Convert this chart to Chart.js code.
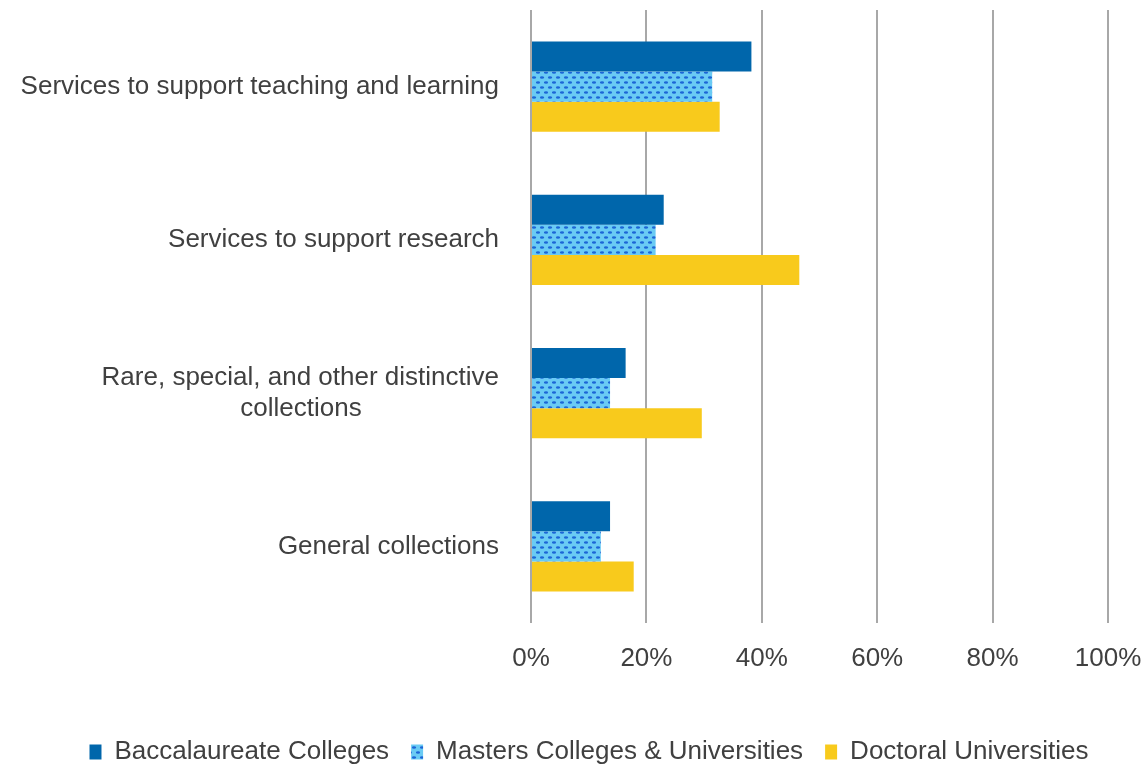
<!DOCTYPE html>
<html>
<head>
<meta charset="utf-8">
<script src="https://cdn.jsdelivr.net/npm/chart.js@4/dist/chart.umd.min.js"></script>
<style>
  html, body { margin: 0; padding: 0; background: #fff; }
  #wrap { width: 1146px; height: 767px; }
</style>
</head>
<body>
<div id="wrap"><canvas id="chart" width="1146" height="767"></canvas></div>
<script>
const categories = [
  "Services to support teaching and learning",
  "Services to support research",
  ["Rare, special, and other distinctive", "collections"],
  "General collections"
];
const seriesNames = ["Baccalaureate Colleges", "Masters Colleges & Universities", "Doctoral Universities"];
const baccalaureate = [38.2, 23.0, 16.4, 13.7];
const masters = [31.4, 21.6, 13.7, 12.1];
const doctoral = [32.7, 46.5, 29.6, 17.8];
const xTicks = [0, 20, 40, 60, 80, 100];

const FONT = '"Liberation Sans", Arial, sans-serif';
const TEXT = "#404040";

// light blue with small dark blue dots, like the office "dotted" fill
function dotPattern() {
  const c = document.createElement("canvas");
  c.width = 8; c.height = 10;
  const g = c.getContext("2d");
  g.fillStyle = "#6ACBF4";
  g.fillRect(0, 0, 8, 10);
  g.fillStyle = "#1C66D6";
  g.beginPath(); g.ellipse(2, 2.5, 2.1, 1.3, 0, 0, Math.PI * 2); g.fill();
  g.beginPath(); g.ellipse(6, 7.5, 2.1, 1.3, 0, 0, Math.PI * 2); g.fill();
  g.beginPath(); g.ellipse(-2, 7.5, 2.1, 1.3, 0, 0, Math.PI * 2); g.fill();
  return g.createPattern(c, "repeat");
}

// centre the lines of a wrapped label inside its right-aligned block
const measure = document.createElement("canvas").getContext("2d");
measure.font = "26px " + FONT;
function centreLines(label) {
  if (!Array.isArray(label)) return label;
  const widths = label.map(s => measure.measureText(s).width);
  const max = Math.max(...widths);
  const sp = measure.measureText(" ").width;
  return label.map((s, i) => s + " ".repeat(Math.round((max - widths[i]) / 2 / sp)));
}

// no overflow padding from tick labels, the sizes below are fixed
function noOverflow(s) {
  s.paddingTop = 0; s.paddingBottom = 0; s.paddingLeft = 0; s.paddingRight = 0;
}

// nudge the legend row to where the original sits
const legendShift = {
  id: "legendShift",
  afterLayout(chart) {
    const l = chart.legend;
    l.left += 30; l.right += 30;
  }
};

const ctx = document.getElementById("chart").getContext("2d");
new Chart(ctx, {
  type: "bar",
  data: {
    labels: categories,
    datasets: [
      { label: seriesNames[0], data: baccalaureate, backgroundColor: "#0066AB" },
      { label: seriesNames[1], data: masters, backgroundColor: dotPattern() },
      { label: seriesNames[2], data: doctoral, backgroundColor: "#F8CA1C" }
    ]
  },
  plugins: [legendShift],
  options: {
    indexAxis: "y",
    responsive: false,
    animation: false,
    layout: { padding: { left: 10, right: 38, top: 10, bottom: -8 } },
    datasets: { bar: { categoryPercentage: 0.588, barPercentage: 1.0 } },
    scales: {
      x: {
        min: 0, max: 100,
        afterBuildTicks: s => { s.ticks = xTicks.map(v => ({ value: v })); },
        afterFit: s => { s.height = 94; noOverflow(s); },
        grid: { color: "#A8A8A8", lineWidth: 2, drawTicks: false },
        border: { display: false },
        ticks: {
          color: TEXT, padding: 20,
          font: { family: FONT, size: 26 },
          callback: v => v + "%"
        }
      },
      y: {
        afterFit: s => { s.width = 521; noOverflow(s); },
        grid: { display: false, drawTicks: false },
        border: { display: false },
        ticks: {
          color: TEXT, padding: 32,
          font: { family: FONT, size: 26 },
          callback: function (v) { return centreLines(this.getLabelForValue(v)); }
        }
      }
    },
    plugins: {
      tooltip: { enabled: false },
      legend: {
        position: "bottom",
        labels: {
          color: TEXT, boxWidth: 12, boxHeight: 15, padding: 22,
          font: { family: FONT, size: 26 }
        }
      }
    }
  }
});
</script>
</body>
</html>
